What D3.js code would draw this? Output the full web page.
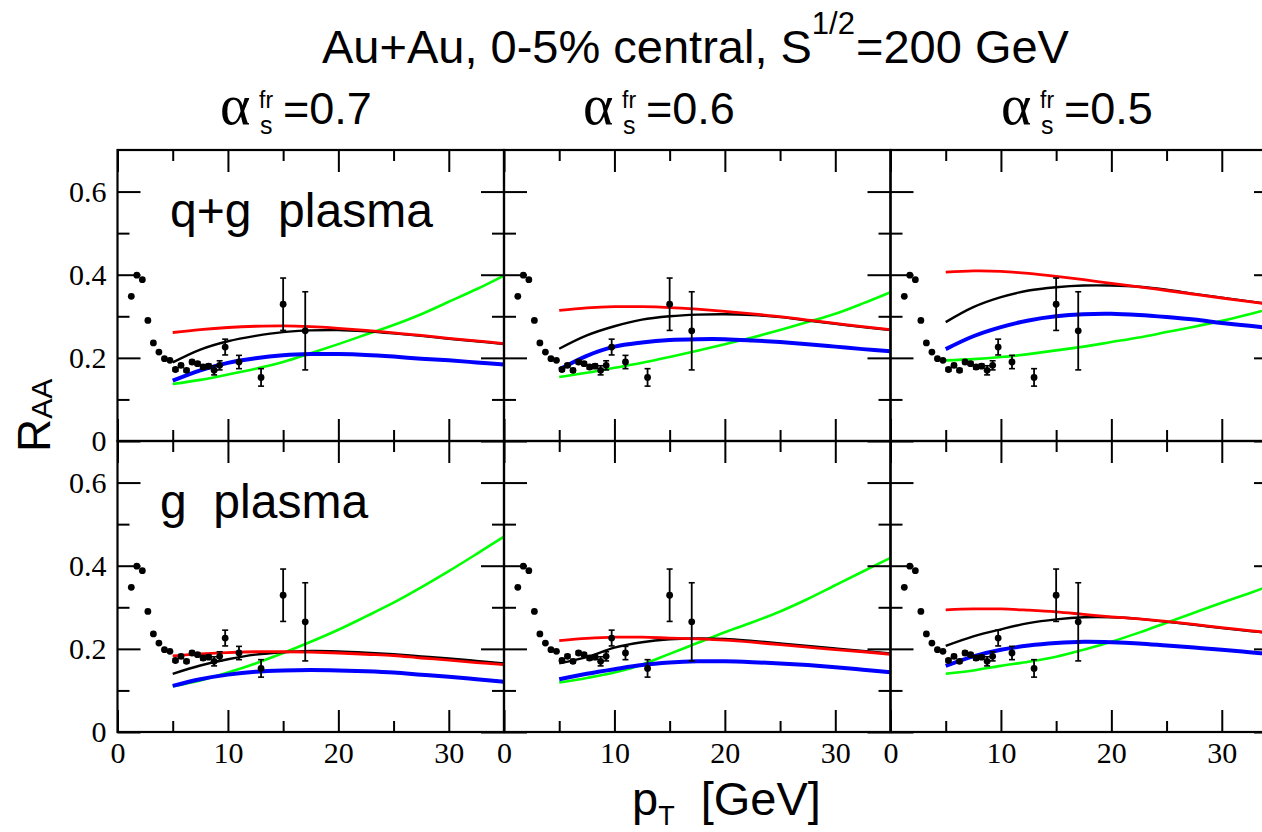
<!DOCTYPE html>
<html>
<head>
<meta charset="utf-8">
<script src="https://d3js.org/d3.v7.min.js"></script>
<style>
  body { margin: 0; background: #fff; }
  svg { display: block; }
</style>
</head>
<body>
<div id="chart"></div>
<script>
// measured points (same in every panel)
var dataPt = [1.25, 1.75, 2.25, 2.75, 3.25, 3.75, 4.25, 4.75, 5.25, 5.75, 6.25, 6.75, 7.25, 7.75, 8.25, 8.75, 9.25, 9.75, 11, 13, 15, 17];
var dataRaa = [0.348, 0.399, 0.388, 0.290, 0.236, 0.214, 0.198, 0.194, 0.172, 0.182, 0.170, 0.190, 0.186, 0.178, 0.180, 0.170, 0.182, 0.226, 0.190, 0.153, 0.329, 0.265];
var dataErr = [0, 0, 0, 0, 0, 0, 0, 0, 0.004, 0.004, 0.004, 0.004, 0.004, 0.005, 0.005, 0.011, 0.011, 0.019, 0.016, 0.021, 0.063, 0.094];

// model curves, one row per alpha_s^fr (0.7, 0.6, 0.5)
var curvePt = [5, 7.5, 10, 12.5, 15, 17.5, 20, 22.5, 25, 27.5, 30, 32.5, 35];
var alphaLabels = ["0.7", "0.6", "0.5"];
var plasmaLabels = ["q+g  plasma", "g  plasma"];

var qgRed = [
  [0.261, 0.268, 0.273, 0.276, 0.277, 0.275, 0.271, 0.266, 0.260, 0.254, 0.247, 0.241, 0.234],
  [0.314, 0.320, 0.323, 0.323, 0.321, 0.317, 0.312, 0.306, 0.299, 0.291, 0.283, 0.275, 0.268],
  [0.406, 0.409, 0.408, 0.403, 0.396, 0.388, 0.379, 0.371, 0.362, 0.353, 0.344, 0.335, 0.327]
];
var qgBlack = [
  [0.189, 0.220, 0.240, 0.253, 0.262, 0.266, 0.267, 0.264, 0.259, 0.253, 0.246, 0.240, 0.233],
  [0.222, 0.254, 0.276, 0.292, 0.300, 0.304, 0.305, 0.303, 0.298, 0.290, 0.282, 0.274, 0.267],
  [0.286, 0.322, 0.346, 0.362, 0.370, 0.374, 0.374, 0.371, 0.364, 0.354, 0.345, 0.336, 0.327]
];
var qgBlue = [
  [0.145, 0.170, 0.188, 0.199, 0.206, 0.209, 0.209, 0.207, 0.203, 0.198, 0.194, 0.189, 0.184],
  [0.172, 0.205, 0.227, 0.237, 0.243, 0.245, 0.245, 0.242, 0.238, 0.233, 0.227, 0.221, 0.216],
  [0.221, 0.252, 0.274, 0.290, 0.300, 0.305, 0.306, 0.303, 0.298, 0.292, 0.284, 0.277, 0.270]
];
var qgGreen = [
  [0.137, 0.147, 0.160, 0.174, 0.190, 0.211, 0.233, 0.256, 0.279, 0.305, 0.335, 0.365, 0.398],
  [0.154, 0.164, 0.176, 0.188, 0.202, 0.217, 0.233, 0.249, 0.267, 0.286, 0.306, 0.331, 0.358],
  [0.194, 0.197, 0.202, 0.209, 0.218, 0.227, 0.238, 0.249, 0.262, 0.275, 0.289, 0.305, 0.322]
];
var gRed = [
  [0.183, 0.188, 0.191, 0.193, 0.193, 0.192, 0.190, 0.187, 0.184, 0.178, 0.173, 0.167, 0.162],
  [0.220, 0.225, 0.228, 0.228, 0.226, 0.224, 0.221, 0.216, 0.210, 0.204, 0.198, 0.193, 0.187],
  [0.294, 0.296, 0.296, 0.293, 0.289, 0.283, 0.277, 0.272, 0.266, 0.259, 0.251, 0.244, 0.237]
];
var gBlack = [
  [0.140, 0.160, 0.175, 0.186, 0.192, 0.195, 0.194, 0.191, 0.187, 0.182, 0.177, 0.171, 0.165],
  [0.165, 0.180, 0.203, 0.216, 0.223, 0.225, 0.224, 0.219, 0.213, 0.207, 0.201, 0.195, 0.189],
  [0.207, 0.230, 0.247, 0.262, 0.271, 0.276, 0.276, 0.272, 0.265, 0.258, 0.250, 0.243, 0.236]
];
var gBlue = [
  [0.111, 0.127, 0.138, 0.145, 0.148, 0.149, 0.148, 0.146, 0.143, 0.138, 0.133, 0.127, 0.121],
  [0.127, 0.140, 0.151, 0.161, 0.167, 0.170, 0.170, 0.168, 0.165, 0.161, 0.156, 0.150, 0.144],
  [0.159, 0.182, 0.198, 0.208, 0.214, 0.217, 0.216, 0.213, 0.208, 0.203, 0.198, 0.192, 0.186]
];
var gGreen = [
  [0.110, 0.124, 0.143, 0.165, 0.190, 0.217, 0.246, 0.278, 0.311, 0.348, 0.387, 0.428, 0.470],
  [0.119, 0.130, 0.143, 0.162, 0.188, 0.214, 0.240, 0.264, 0.290, 0.320, 0.353, 0.386, 0.419],
  [0.140, 0.148, 0.159, 0.169, 0.181, 0.198, 0.217, 0.239, 0.263, 0.287, 0.311, 0.334, 0.358]
];

var xMajor = [0, 10, 20, 30];
var xMinor = [5, 15, 25];
var yMajor = [0, 0.2, 0.4, 0.6];
var yMinor = [0.1, 0.3, 0.5];

var width = 1262, height = 832;
var left0 = 117.5, top0 = 150;
var panelW = 386.5, panelH = 291;
var sans = "'Liberation Sans', Arial, sans-serif";
var serif = "'Liberation Serif', 'Times New Roman', serif";

var svg = d3.select("#chart").append("svg")
  .attr("width", width)
  .attr("height", height)
  .attr("font-family", sans);

var x = d3.scaleLinear().domain([0, 35]).range([0, panelW]);
var y = d3.scaleLinear().domain([0, 0.7]).range([panelH, 0]);

var line = d3.line()
  .x(function (d) { return x(d[0]); })
  .y(function (d) { return y(d[1]); })
  .curve(d3.curveCatmullRom);

// draw order: green, blue, black, red
var rows = [
  [{ vals: qgGreen, color: "#00ff00", w: 2.6 }, { vals: qgBlue, color: "#0000ff", w: 4 },
   { vals: qgBlack, color: "#000000", w: 2.4 }, { vals: qgRed, color: "#ff0000", w: 2.8 }],
  [{ vals: gGreen, color: "#00ff00", w: 2.6 }, { vals: gBlue, color: "#0000ff", w: 4 },
   { vals: gBlack, color: "#000000", w: 2.4 }, { vals: gRed, color: "#ff0000", w: 2.8 }]
];

function addAxis(g, axis, transform) {
  var a = g.append("g").attr("transform", transform).call(axis);
  a.select(".domain").remove();
  a.selectAll("line").attr("stroke", "#000").attr("stroke-width", 2);
  a.attr("font-family", serif).attr("font-size", 30);
  a.selectAll("text").attr("fill", "#000");
  return a;
}

function fmtY(d) { return d === 0 ? "0" : d.toFixed(1); }

for (var r = 0; r < 2; r++) {
  for (var c = 0; c < 3; c++) {
    var g = svg.append("g")
      .attr("transform", "translate(" + (left0 + c * panelW) + "," + (top0 + r * panelH) + ")");

    rows[r].forEach(function (s) {
      var pts = curvePt.map(function (p, i) { return [p, s.vals[c][i]]; });
      g.append("path")
        .datum(pts)
        .attr("fill", "none")
        .attr("stroke", s.color)
        .attr("stroke-width", s.w)
        .attr("d", line);
    });

    // data with error bars
    var pts = dataPt.map(function (p, i) { return { x: p, y: dataRaa[i], e: dataErr[i] }; });
    var eb = g.append("g").attr("stroke", "#000");
    pts.filter(function (d) { return d.e > 0; }).forEach(function (d) {
      eb.append("line").attr("x1", x(d.x)).attr("x2", x(d.x))
        .attr("y1", y(d.y - d.e)).attr("y2", y(d.y + d.e)).attr("stroke-width", 1.8);
      [d.y - d.e, d.y + d.e].forEach(function (v) {
        eb.append("line").attr("x1", x(d.x) - 3).attr("x2", x(d.x) + 3)
          .attr("y1", y(v)).attr("y2", y(v)).attr("stroke-width", 1.6);
      });
    });
    g.selectAll("circle.pt").data(pts).enter().append("circle")
      .attr("class", "pt")
      .attr("cx", function (d) { return x(d.x); })
      .attr("cy", function (d) { return y(d.y); })
      .attr("r", 3.4)
      .attr("fill", "#000");

    // ticks on all four sides, pointing inward
    addAxis(g, d3.axisBottom(x).tickValues(xMajor).tickSize(-22).tickSizeOuter(0).tickPadding(10)
      .tickFormat(r === 1 ? d3.format("d") : ""), "translate(0," + panelH + ")");
    addAxis(g, d3.axisBottom(x).tickValues(xMinor).tickSize(-11).tickSizeOuter(0).tickFormat(""),
      "translate(0," + panelH + ")");
    addAxis(g, d3.axisTop(x).tickValues(xMajor).tickSize(-22).tickSizeOuter(0).tickFormat(""), "translate(0,0)");
    addAxis(g, d3.axisTop(x).tickValues(xMinor).tickSize(-11).tickSizeOuter(0).tickFormat(""), "translate(0,0)");
    addAxis(g, d3.axisLeft(y).tickValues(yMajor).tickSize(-23).tickSizeOuter(0).tickPadding(11)
      .tickFormat(c === 0 ? fmtY : ""), "translate(0,0)");
    addAxis(g, d3.axisLeft(y).tickValues(yMinor).tickSize(-12).tickSizeOuter(0).tickFormat(""), "translate(0,0)");
    addAxis(g, d3.axisRight(y).tickValues(yMajor).tickSize(-23).tickSizeOuter(0).tickFormat(""),
      "translate(" + panelW + ",0)");
    addAxis(g, d3.axisRight(y).tickValues(yMinor).tickSize(-12).tickSizeOuter(0).tickFormat(""),
      "translate(" + panelW + ",0)");

    g.append("rect")
      .attr("x", 0).attr("y", 0)
      .attr("width", panelW).attr("height", panelH)
      .attr("fill", "none")
      .attr("stroke", "#000")
      .attr("stroke-width", 2.2);
  }
}

// plasma labels
svg.append("text").attr("x", 170).attr("y", 227).attr("font-size", 48)
  .style("white-space", "pre").text(plasmaLabels[0]);
svg.append("text").attr("x", 160).attr("y", 518).attr("font-size", 48)
  .style("white-space", "pre").text(plasmaLabels[1]);

// title
var title = svg.append("text").attr("x", 322).attr("y", 63).attr("font-size", 47);
title.append("tspan").text("Au+Au, 0-5% central, S");
title.append("tspan").attr("font-size", 31).attr("dy", -29).text("1/2");
title.append("tspan").attr("dx", 1).attr("dy", 29).text("=200 GeV");

// alpha_s^fr labels
var alphaX = [220, 583, 1001];
alphaLabels.forEach(function (a, i) {
  var x0 = alphaX[i];
  svg.append("text").attr("x", x0).attr("y", 124)
    .attr("font-family", serif)
    .attr("font-size", 58).text("\u03b1");
  svg.append("text").attr("x", x0 + 39).attr("y", 108).attr("font-size", 23).text("fr");
  svg.append("text").attr("x", x0 + 40).attr("y", 134).attr("font-size", 25).text("s");
  svg.append("text").attr("x", x0 + 63).attr("y", 124).attr("font-size", 45).text("=" + a);
});

// axis titles
var yl = svg.append("text").attr("transform", "translate(50,452) rotate(-90)").attr("font-size", 46);
yl.append("tspan").text("R");
yl.append("tspan").attr("font-size", 30).attr("dy", 2).text("AA");

var xl = svg.append("text").attr("x", 632).attr("y", 815).attr("font-size", 47).style("white-space", "pre");
xl.append("tspan").text("p");
xl.append("tspan").attr("font-size", 27).attr("dy", 10).text("T");
xl.append("tspan").attr("dy", -10).text("  [GeV]");
</script>
</body>
</html>
